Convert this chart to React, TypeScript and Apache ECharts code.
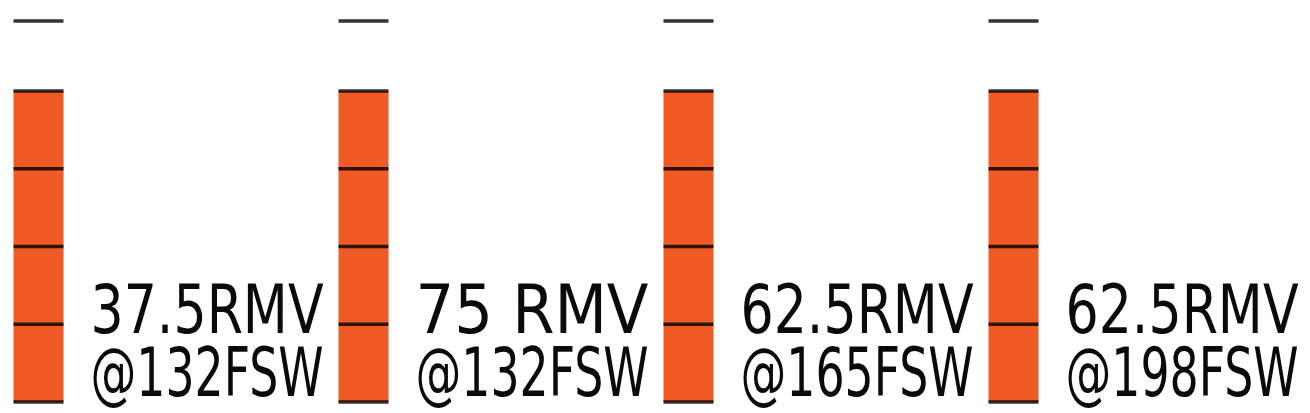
import React, { useEffect, useRef } from "react";
import * as echarts from "echarts";

const rmvLabels = ["37.5RMV", "75 RMV", "62.5RMV", "62.5RMV"];
const depthLabels = ["@132FSW", "@132FSW", "@165FSW", "@198FSW"];
const barValues = [4, 4, 4, 4];
const markValues = [0, 1, 2, 3, 4, 4.9];

const categories = rmvLabels.map((r, i) => `${r}\n${depthLabels[i]}`);

const FONT_FAMILY = "'DejaVu Sans Condensed', 'DejaVu Sans', sans-serif";
const FONT_SIZE = 68;
const LINE_WIDTH_TARGET = 233;

function measure(text: string): number {
  const c = document.createElement("canvas");
  const ctx = c.getContext("2d");
  if (!ctx) return LINE_WIDTH_TARGET;
  ctx.font = `${FONT_SIZE}px ${FONT_FAMILY}`;
  return ctx.measureText(text).width;
}

export default function App() {
  const ref = useRef<HTMLDivElement>(null);
  useEffect(() => {
    document.body.style.margin = "0";
    if (!ref.current) return;
    const chart = echarts.init(ref.current, null, { renderer: "svg" });
    const marks: [number, number][] = [];
    categories.forEach((_, i) => markValues.forEach((m) => marks.push([i, m])));
    chart.setOption({
      animation: false,
      backgroundColor: "#ffffff",
      grid: { left: 38.5, right: 296.5, top: 13.25, bottom: 11 },
      xAxis: {
        type: "category",
        data: categories,
        boundaryGap: false,
        show: false,
      },
      yAxis: { type: "value", min: 0, max: 5, show: false },
      series: [
        {
          type: "bar",
          data: barValues,
          barWidth: 50,
          itemStyle: { color: "#F05A25" },
        },
        {
          type: "scatter",
          data: marks,
          symbol: "rect",
          symbolSize: [50, 3.4],
          itemStyle: { color: "#000000" },
          z: 5,
        },
      ],
    });

    const texts: any[] = [];
    categories.forEach((_, i) => {
      const pt = chart.convertToPixel({ seriesIndex: 0 }, [i, 0]) as number[];
      const x0 = pt[0] - 25 + 77;
      const bottom = pt[1];
      const lines = [rmvLabels[i], depthLabels[i]];
      lines.forEach((t, li) => {
        const w = measure(t);
        texts.push({
          type: "text",
          x: x0,
          y: bottom + 4 - (1 - li) * 63,
          scaleX: LINE_WIDTH_TARGET / w,
          style: {
            text: t,
            fontSize: FONT_SIZE,
            fontFamily: FONT_FAMILY,
            fill: "#0a0a0a",
            align: "left",
            verticalAlign: "bottom",
          },
          z: 10,
        });
      });
    });
    chart.setOption({ graphic: texts });
    return () => chart.dispose();
  }, []);
  return <div ref={ref} style={{ width: 1310, height: 413 }} />;
}
